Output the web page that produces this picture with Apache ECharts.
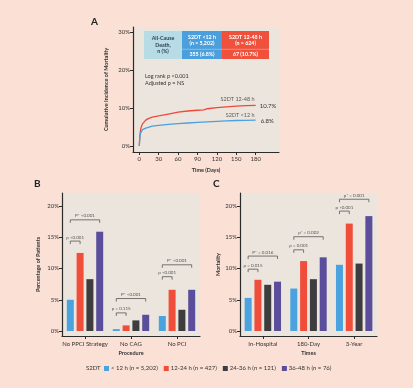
<!DOCTYPE html>
<html><head><meta charset="utf-8">
<script src="https://cdn.jsdelivr.net/npm/echarts@6/dist/echarts.min.js"></script>
<style>html,body{margin:0;padding:0;background:#fbe0d6;}#c{width:413px;height:388px;}</style>
</head><body><div id="c"></div><script>
// ---- Panel A data (Kaplan-Meier style cumulative incidence, %) ----
const redDays  = [0,1,2,3,5,7,10,14,20,30,45,60,75,90,100,105,120,135,150,165,180];
const redVals  = [0,2.8,4.2,5.0,5.8,6.3,6.8,7.2,7.6,7.9,8.4,8.9,9.2,9.4,9.5,9.8,10.1,10.3,10.5,10.6,10.7];
const blueDays = [0,1,2,3,5,7,10,14,20,30,45,60,75,90,105,120,135,150,165,180];
const blueVals = [0,2.5,3.4,3.9,4.3,4.5,4.7,4.9,5.2,5.4,5.7,5.9,6.05,6.2,6.35,6.5,6.6,6.7,6.75,6.8];
const aXTicks = [0,30,60,90,120,150,180];
const aYTicks = [0,10,20,30];
const curveNames = ['S2DT 12-48 h', 'S2DT <12 h'];
const curveEnds = ['10.7%', '6.8%'];
const tableHeader = ['All-Cause\nDeath,\nn (%)', 'S2DT <12 h\n(n = 5,202)', 'S2DT 12-48 h\n(n = 624)'];
const tableRow = ['355 (6.8%)', '67 (10.7%)'];

// ---- Panel B / C data ----
const seriesNames = ['< 12 h (n = 5,202)', '12-24 h (n = 427)', '24-36 h (n = 121)', '36-48 h (n = 76)'];
const procCats = ['No PPCI Strategy', 'No CAG', 'No PCI'];
const procB1 = [5.0, 0.3, 2.4];
const procB2 = [12.5, 0.9, 6.6];
const procB3 = [8.3, 1.7, 3.4];
const procB4 = [15.9, 2.6, 6.6];
const timeCats = ['In-Hospital', '180-Day', '3-Year'];
const timeC1 = [5.3, 6.8, 10.6];
const timeC2 = [8.2, 11.2, 17.2];
const timeC3 = [7.4, 8.3, 10.8];
const timeC4 = [7.9, 11.8, 18.4];
const barYTicks = [0,5,10,15,20];
// brackets: [category, y(%), fromBar, toBar]
const bracketsB = [[0,14.4,0,1],[0,17.8,0,3],[1,2.9,0,1],[1,5.2,0,3],[2,8.7,0,1],[2,10.6,0,3]];
const bracketLabelsB = ['p <0.001','P* <0.001','p = 0.115','P* <0.001','p <0.001','P* <0.001'];
const bracketsC = [[0,9.9,0,1],[0,12.0,0,3],[1,13.0,0,1],[1,15.1,0,3],[2,19.2,0,1],[2,21.1,0,3]];
const bracketLabelsC = ['p = 0.015','P* = 0.016','p = 0.001','p* = 0.002','p <0.001','p* = 0.001'];

const colors = ['#4aa3df','#f04e3b','#3d3c3f','#5a4e9c'];
const FONT = 'Lato';
const BAR_W = 7, BAR_GAP = 0.4;
const axisCol = '#2b2b2b', txtCol = '#333';
const plotBg = '#ece5dd';

const chart = echarts.init(document.getElementById('c'), null, {renderer:'canvas'});

function bracketRender(labels){
  return function(params, api){
    const cat = api.value(0), y = api.value(1), from = api.value(2), to = api.value(3);
    const p = api.coord([cat, y]);
    const step = BAR_W * (1 + BAR_GAP);
    const x1 = p[0] + (from - 1.5) * step, x2 = p[0] + (to - 1.5) * step;
    return {type:'group', children:[
      {type:'polyline', shape:{points:[[x1,p[1]+3],[x1,p[1]],[x2,p[1]],[x2,p[1]+3]]},
       style:{stroke:'#555', lineWidth:0.8, fill:null}},
      {type:'text', style:{text:labels[params.dataIndex], x:(x1+x2)/2, y:p[1]-1.5,
        align:'center', verticalAlign:'bottom', fontSize:4.5, fill:'#555', fontFamily:FONT}}
    ]};
  };
}

function valAxisCommon(){
  return {
    axisLine:{show:true, onZero:false, lineStyle:{color:axisCol, width:1.2}},
    axisTick:{show:true, length:3, lineStyle:{color:axisCol}},
    splitLine:{show:false},
    axisLabel:{color:txtCol, fontSize:6, fontFamily:FONT, margin:3},
    nameTextStyle:{color:txtCol, fontSize:5.5, fontWeight:'bold', fontFamily:FONT}
  };
}

const yBar = (gap, name) => Object.assign(valAxisCommon(), {
  type:'value', min:-0.8, max:22.1, name:name, nameLocation:'middle', nameGap:gap,
  axisLabel:{color:txtCol, fontSize:6, fontFamily:FONT, margin:3, formatter:'{value}%', customValues:barYTicks},
  axisTick:{show:true, length:3, lineStyle:{color:axisCol}, customValues:barYTicks}
});
const xCat = (idx, cats, name) => ({
  type:'category', data:cats, gridIndex:idx, name:name, nameLocation:'middle', nameGap:14,
  axisLine:{show:true, onZero:false, lineStyle:{color:axisCol, width:1.2}},
  axisTick:{show:true, alignWithLabel:true, length:3, lineStyle:{color:axisCol}},
  axisLabel:{color:txtCol, fontSize:6, fontFamily:FONT, margin:5, interval:0},
  nameTextStyle:{color:txtCol, fontSize:5.5, fontWeight:'bold', fontFamily:FONT}
});

function barSeries(axisIdx, arrs){
  return arrs.map((a,i)=>({
    type:'bar', name:seriesNames[i], xAxisIndex:axisIdx, yAxisIndex:axisIdx, data:a,
    barWidth:BAR_W, barGap:(BAR_GAP*100)+'%', itemStyle:{color:colors[i]}
  }));
}

const graphics = [
  {type:'text', left:91, top:17, style:{text:'A', fontSize:10, fontWeight:'bold', fill:'#222', fontFamily:FONT}},
  {type:'text', left:34, top:179, style:{text:'B', fontSize:10, fontWeight:'bold', fill:'#222', fontFamily:FONT}},
  {type:'text', left:213, top:179, style:{text:'C', fontSize:10, fontWeight:'bold', fill:'#222', fontFamily:FONT}},
  // table
  {type:'rect', shape:{x:144,y:31,width:38,height:28}, style:{fill:'#b8dce5'}},
  {type:'rect', shape:{x:182,y:31,width:40,height:28}, style:{fill:'#4a9fdc'}},
  {type:'rect', shape:{x:222,y:31,width:47,height:28}, style:{fill:'#f0513d'}},
  {type:'line', shape:{x1:182,y1:49.3,x2:269,y2:49.3}, style:{stroke:'rgba(255,255,255,0.55)', lineWidth:0.6}},
  {type:'text', style:{text:tableHeader[0], x:163, y:45, align:'center', verticalAlign:'middle', fontSize:5.3, lineHeight:6.3, fontWeight:'bold', fill:'#2d3e57', fontFamily:FONT}},
  {type:'text', style:{text:tableHeader[1], x:202, y:40, align:'center', verticalAlign:'middle', fontSize:5.3, lineHeight:6.3, fontWeight:'bold', fill:'#fff', fontFamily:FONT}},
  {type:'text', style:{text:tableHeader[2], x:245.5, y:40, align:'center', verticalAlign:'middle', fontSize:5.3, lineHeight:6.3, fontWeight:'bold', fill:'#fff', fontFamily:FONT}},
  {type:'text', style:{text:tableRow[0], x:202, y:54.4, align:'center', verticalAlign:'middle', fontSize:5.3, fontWeight:'bold', fill:'#fff', fontFamily:FONT}},
  {type:'text', style:{text:tableRow[1], x:245.5, y:54.4, align:'center', verticalAlign:'middle', fontSize:5.3, fontWeight:'bold', fill:'#fff', fontFamily:FONT}},
  {type:'text', style:{text:'Log rank p <0.001\nAdjusted p = NS', x:145, y:73, align:'left', verticalAlign:'top', fontSize:5.5, lineHeight:7, fill:'#333', fontFamily:FONT}},
  {type:'text', style:{text:'S2DT', x:86, y:368, align:'left', verticalAlign:'middle', fontSize:6, fill:'#333', fontFamily:FONT}}
];

// curve name labels placed in data coordinates via a scatter series with invisible symbols
const curveLabelPts = [[152,12.4],[156,8.0]];

const option = {
  animation:false,
  backgroundColor:'#fbe0d6',
  textStyle:{fontFamily:FONT},
  grid:[
    {left:133, top:27, width:146, height:125, show:true, backgroundColor:plotBg, borderWidth:0},
    {left:62, top:193, width:138, height:143, show:true, backgroundColor:plotBg, borderWidth:0},
    {left:240, top:193, width:137, height:143, show:true, backgroundColor:plotBg, borderWidth:0}
  ],
  xAxis:[
    Object.assign(valAxisCommon(), {type:'value', gridIndex:0, min:-9.7, max:216, name:'Time (Days)', nameLocation:'middle', nameGap:15,
      axisLabel:{color:txtCol, fontSize:6, fontFamily:FONT, margin:4, customValues:aXTicks},
      axisTick:{show:true, length:3, lineStyle:{color:axisCol}, customValues:aXTicks}}),
    xCat(1, procCats, 'Procedure'),
    xCat(2, timeCats, 'Times')
  ],
  yAxis:[
    Object.assign(valAxisCommon(), {type:'value', gridIndex:0, min:-1.58, max:31.3, name:'Cumulative Incidence of Mortality', nameLocation:'middle', nameGap:24,
      axisLabel:{color:txtCol, fontSize:6, fontFamily:FONT, margin:3, formatter:'{value}%', customValues:aYTicks},
      axisTick:{show:true, length:3, lineStyle:{color:axisCol}, customValues:aYTicks}}),
    Object.assign(yBar(21, 'Percentage of Patients'), {gridIndex:1}),
    Object.assign(yBar(19, 'Mortality'), {gridIndex:2})
  ],
  legend:{
    data:seriesNames, left:104, top:365.5, padding:0, itemWidth:5, itemHeight:5, itemGap:6, icon:'rect',
    textStyle:{fontSize:6, color:'#333', fontFamily:FONT, padding:[0,0,0,-3]}
  },
  graphic:graphics,
  series:[
    {type:'line', name:curveNames[0], xAxisIndex:0, yAxisIndex:0, data:redDays.map((d,i)=>[d,redVals[i]]),
     showSymbol:false, lineStyle:{color:'#f0483a', width:1.3}, itemStyle:{color:'#f0483a'},
     endLabel:{show:true, formatter:curveEnds[0], fontSize:6, color:'#333', distance:4, offset:[0,1]}},
    {type:'line', name:curveNames[1], xAxisIndex:0, yAxisIndex:0, data:blueDays.map((d,i)=>[d,blueVals[i]]),
     showSymbol:false, lineStyle:{color:'#4aa0e0', width:1.3}, itemStyle:{color:'#4aa0e0'},
     endLabel:{show:true, formatter:curveEnds[1], fontSize:6, color:'#333', distance:5, offset:[0,1]}},
    {type:'scatter', name:'curveLabels', xAxisIndex:0, yAxisIndex:0, data:curveLabelPts,
     symbol:'circle', symbolSize:2, itemStyle:{color:'rgba(0,0,0,0)'}, silent:true, z:10,
     label:{show:true, position:'inside', formatter:(p)=>curveNames[p.dataIndex], fontSize:5.5, color:'#333', fontFamily:FONT}},
    ...barSeries(1, [procB1, procB2, procB3, procB4]),
    ...barSeries(2, [timeC1, timeC2, timeC3, timeC4]),
    {type:'custom', xAxisIndex:1, yAxisIndex:1, data:bracketsB, renderItem:bracketRender(bracketLabelsB), silent:true, z:5},
    {type:'custom', xAxisIndex:2, yAxisIndex:2, data:bracketsC, renderItem:bracketRender(bracketLabelsC), silent:true, z:5}
  ]
};
chart.setOption(option);
</script></body></html>
